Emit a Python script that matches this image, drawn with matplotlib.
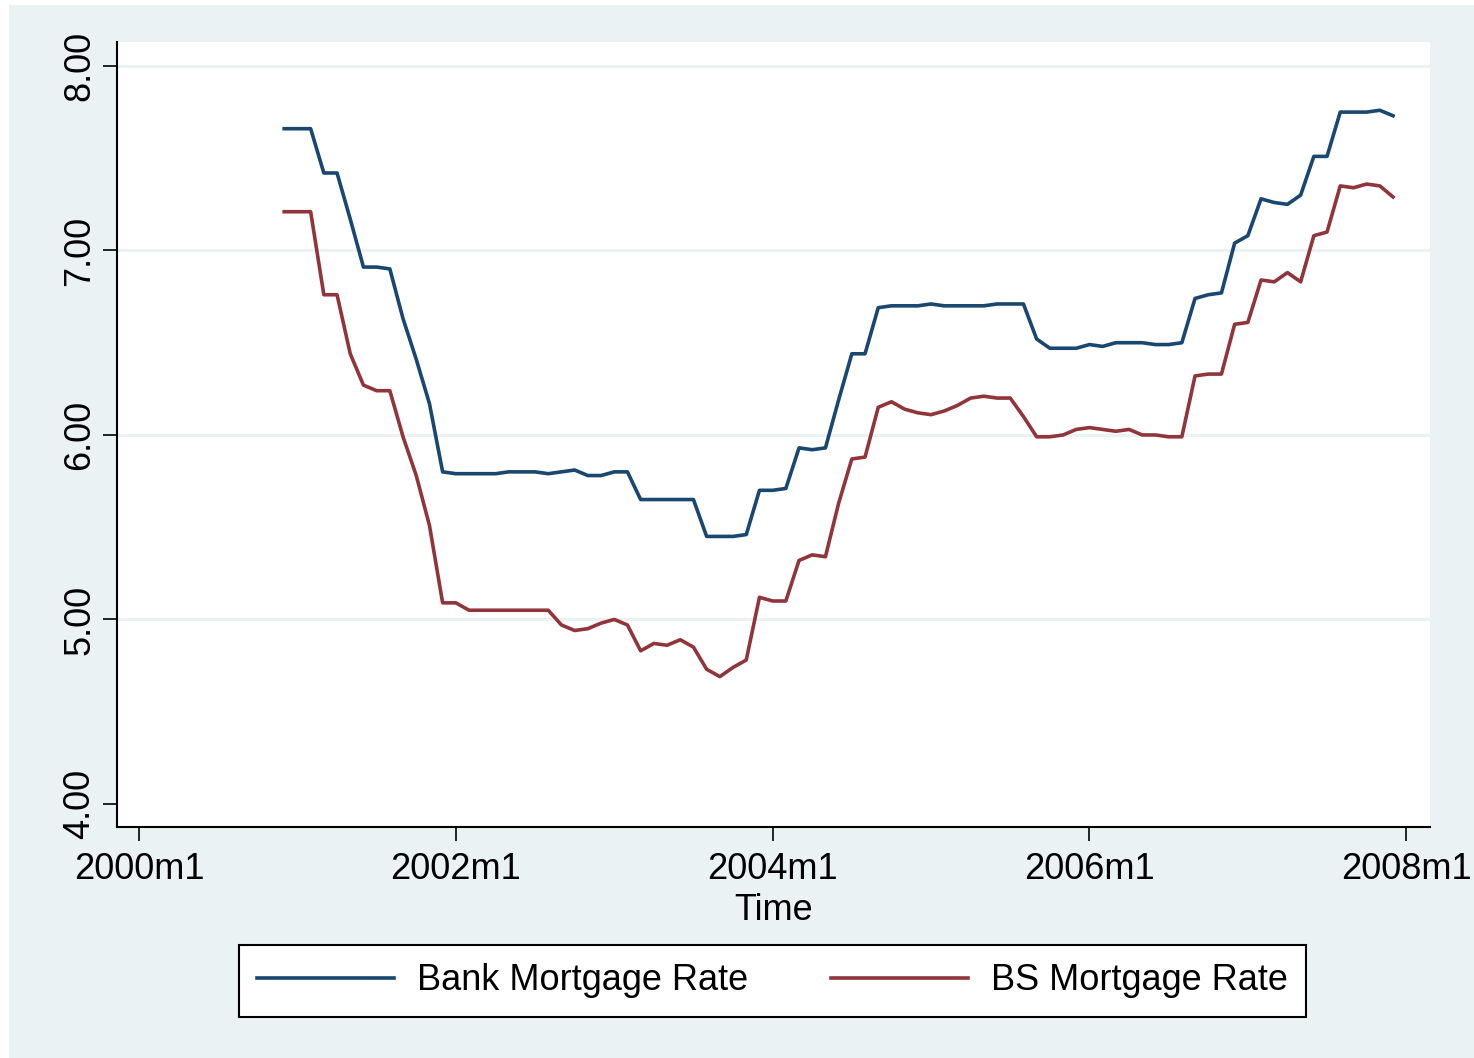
import matplotlib
matplotlib.use('Agg')
import matplotlib.pyplot as plt
import numpy as np
from matplotlib.patches import Rectangle

plt.rcParams['font.family'] = ['Liberation Sans', 'DejaVu Sans']

# Monthly series, 2000m12 .. 2007m12 (month index 0 = 2000m1)
start_month = 11
bank_rate = [7.66, 7.66, 7.66, 7.42, 7.42, 7.17, 6.91, 6.91, 6.90, 6.63, 6.41, 6.17, 5.80, 5.79,
             5.79, 5.79, 5.79, 5.80, 5.80, 5.80, 5.79, 5.80, 5.81, 5.78, 5.78, 5.80, 5.80, 5.65,
             5.65, 5.65, 5.65, 5.65, 5.45, 5.45, 5.45, 5.46, 5.70, 5.70,
             5.71, 5.93, 5.92, 5.93, 6.19, 6.44, 6.44, 6.69, 6.70, 6.70, 6.70, 6.71, 6.70, 6.70,
             6.70, 6.70, 6.71, 6.71, 6.71, 6.52, 6.47, 6.47, 6.47,
             6.49, 6.48, 6.50, 6.50, 6.50, 6.49, 6.49, 6.50, 6.74, 6.76, 6.77, 7.04, 7.08, 7.28,
             7.26, 7.25, 7.30, 7.51, 7.51, 7.75, 7.75, 7.75, 7.76, 7.73]
bs_rate = [7.21, 7.21, 7.21, 6.76, 6.76, 6.44, 6.27, 6.24, 6.24, 5.99, 5.78, 5.51, 5.09, 5.09,
           5.05, 5.05, 5.05, 5.05, 5.05, 5.05, 5.05, 4.97, 4.94, 4.95, 4.98, 5.00, 4.97, 4.83,
           4.87, 4.86, 4.89, 4.85, 4.73, 4.69, 4.74, 4.78, 5.12, 5.10,
           5.10, 5.32, 5.35, 5.34, 5.63, 5.87, 5.88, 6.15, 6.18, 6.14, 6.12, 6.11, 6.13, 6.16,
           6.20, 6.21, 6.20, 6.20, 6.10, 5.99, 5.99, 6.00, 6.03,
           6.04, 6.03, 6.02, 6.03, 6.00, 6.00, 5.99, 5.99, 6.32, 6.33, 6.33, 6.60, 6.61, 6.84,
           6.83, 6.88, 6.83, 7.08, 7.10, 7.35, 7.34, 7.36, 7.35, 7.29]

x_ticks = [0, 24, 48, 72, 96]
x_tick_labels = ['2000m1', '2002m1', '2004m1', '2006m1', '2008m1']
y_ticks = [4, 5, 6, 7, 8]

months = np.arange(start_month, start_month + len(bank_rate))

bg = '#EAF2F3'
navy = '#1A476F'
maroon = '#90353B'

fig = plt.figure(figsize=(14.74, 10.58), dpi=100)
fig.patch.set_facecolor('white')
# Stata style outer graph region (thin white margin left/top)
fig.add_artist(Rectangle((9 / 1474, 0), 1 - 9 / 1474, 1 - 5 / 1058,
                         transform=fig.transFigure, facecolor=bg,
                         edgecolor='none', zorder=-10))

ax = fig.add_axes([117 / 1474, 1 - 827 / 1058, (1430 - 117) / 1474, (827 - 42) / 1058])
ax.set_facecolor('white')

for v in y_ticks[1:]:
    ax.axhline(v, color=bg, linewidth=2.3, zorder=1)

ax.plot(months, bank_rate, color=navy, linewidth=2.6, label='Bank Mortgage Rate', zorder=3)
ax.plot(months, bs_rate, color=maroon, linewidth=2.6, label='BS Mortgage Rate', zorder=3)

ax.set_xlim(-1.67, 97.8)
ax.set_ylim(3.875, 8.13)

ax.set_xticks(x_ticks)
ax.set_xticklabels(x_tick_labels)
ax.set_yticks(y_ticks)
ax.set_yticklabels(['%.2f' % v for v in y_ticks], rotation=90, va='center')

for side in ['top', 'right']:
    ax.spines[side].set_visible(False)
for side in ['left', 'bottom']:
    ax.spines[side].set_linewidth(1.5)
    ax.spines[side].set_color('black')

ax.tick_params(axis='both', direction='out', length=10, width=1.2,
               labelsize=26, colors='black')
ax.tick_params(axis='x', pad=8)
ax.tick_params(axis='y', pad=4)

ax.set_xlabel('Time', fontsize=26, labelpad=4)

leg = fig.legend(loc='center', bbox_to_anchor=(772.5 / 1474, 1 - 981 / 1058),
                 ncol=2, fontsize=26, frameon=True, fancybox=False,
                 handlelength=3.78, handletextpad=0.64, columnspacing=2.3,
                 borderpad=0.5, borderaxespad=0)
leg.get_frame().set_edgecolor('black')
leg.get_frame().set_linewidth(1.5)
leg.get_frame().set_alpha(1)

fig.savefig('out.png', dpi=100, facecolor=fig.get_facecolor())
